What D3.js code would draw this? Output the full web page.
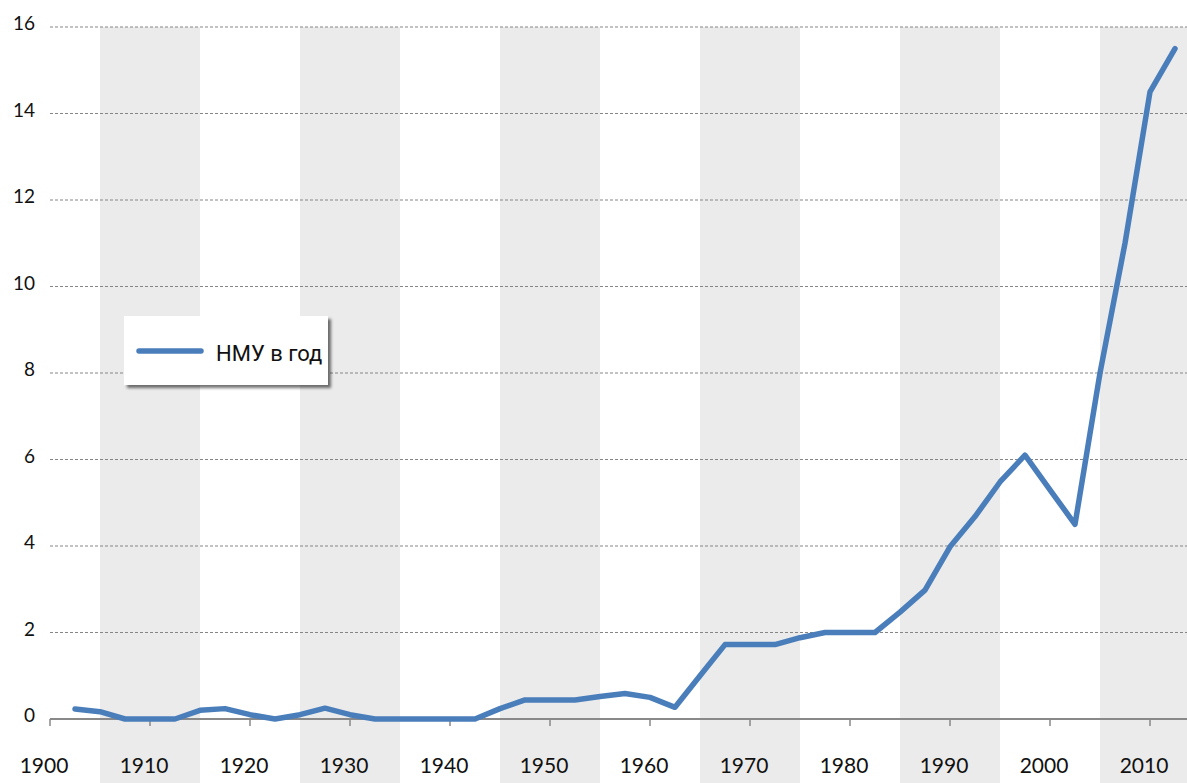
<!DOCTYPE html>
<html>
<head>
<meta charset="utf-8">
<script src="https://cdn.jsdelivr.net/npm/d3@7/dist/d3.min.js"></script>
<style>
  html, body { margin: 0; padding: 0; background: #fff; }
  svg { display: block; }
  .tick-label { font-family: Lato, "Open Sans", sans-serif; fill: #111; }
  .legend-text { font-family: "Liberation Sans Narrow", Roboto, sans-serif; fill: #111; }
</style>
</head>
<body>
<div id="chart"></div>
<script>
(function() {

// data: values per 2.5-year step
var years = [1902.5, 1905, 1907.5, 1910, 1912.5, 1915, 1917.5, 1920, 1922.5, 1925,
             1927.5, 1930, 1932.5, 1935, 1937.5, 1940, 1942.5, 1945, 1947.5, 1950,
             1952.5, 1955, 1957.5, 1960, 1962.5, 1965, 1967.5, 1970, 1972.5, 1975,
             1977.5, 1980, 1982.5, 1985, 1987.5, 1990, 1992.5, 1995, 1997.5, 2000,
             2002.5, 2005, 2007.5, 2010, 2012.5];
var values = [0.23, 0.17, 0, 0, 0, 0.2, 0.24, 0.1, 0, 0.1,
              0.25, 0.1, 0, 0, 0, 0, 0, 0.24, 0.44, 0.44,
              0.44, 0.52, 0.59, 0.5, 0.27, 1.0, 1.72, 1.72, 1.72, 1.88,
              2.0, 2.0, 2.0, 2.47, 2.98, 3.98, 4.68, 5.48, 6.1, 5.3,
              4.5, 8.0, 11.0, 14.5, 15.5];
var xTicks = [1900, 1910, 1920, 1930, 1940, 1950, 1960, 1970, 1980, 1990, 2000, 2010];
var yTicks = [0, 2, 4, 6, 8, 10, 12, 14, 16];
var bands = [[1905, 1915], [1925, 1935], [1945, 1955], [1965, 1975], [1985, 1995], [2005, 2015]];
var seriesName = 'НМУ в год';

var width = 1187, height = 783;

var x = d3.scaleLinear().domain([1900, 2013.7]).range([50, 1187]);
var y = d3.scaleLinear().domain([0, 16]).range([719, 27]);

var svg = d3.select('#chart').append('svg')
    .attr('width', width)
    .attr('height', height);

var defs = svg.append('defs');
var f = defs.append('filter').attr('id', 'shadow')
    .attr('x', '-10%').attr('y', '-20%').attr('width', '130%').attr('height', '150%');
f.append('feDropShadow').attr('dx', 3).attr('dy', 3).attr('stdDeviation', 1.5)
    .attr('flood-color', '#000').attr('flood-opacity', 0.55);

// alternating gray bands
svg.append('g').selectAll('rect')
    .data(bands)
    .enter().append('rect')
    .attr('x', function(d) { return x(d[0]); })
    .attr('width', function(d) { return Math.min(x(d[1]), width) - x(d[0]); })
    .attr('y', y(16))
    .attr('height', height - y(16))
    .attr('fill', '#ebebeb');

// dashed gridlines
svg.append('g').selectAll('line')
    .data(yTicks.filter(function(d) { return d > 0; }))
    .enter().append('line')
    .attr('x1', x(1900)).attr('x2', width)
    .attr('y1', function(d) { return y(d); })
    .attr('y2', function(d) { return y(d); })
    .attr('stroke', '#858585')
    .attr('stroke-width', 1.2)
    .attr('stroke-dasharray', '3,2');

// x axis line + ticks
svg.append('line')
    .attr('x1', x(1900)).attr('x2', width)
    .attr('y1', y(0)).attr('y2', y(0))
    .attr('stroke', '#898989').attr('stroke-width', 2);

svg.append('g').selectAll('line')
    .data(xTicks)
    .enter().append('line')
    .attr('x1', function(d) { return x(d); })
    .attr('x2', function(d) { return x(d); })
    .attr('y1', y(0)).attr('y2', y(0) + 7)
    .attr('stroke', '#898989').attr('stroke-width', 1.5);

svg.append('g').selectAll('text')
    .data(xTicks)
    .enter().append('text')
    .attr('class', 'tick-label')
    .attr('x', function(d) { return x(d) - 6; })
    .attr('y', 773)
    .attr('text-anchor', 'middle')
    .style('font-size', '21px')
    .text(function(d) { return d; });

svg.append('g').selectAll('text')
    .data(yTicks)
    .enter().append('text')
    .attr('class', 'tick-label')
    .attr('x', 35)
    .attr('y', function(d) { return y(d) + 3; })
    .attr('text-anchor', 'end')
    .style('font-size', '19px')
    .text(function(d) { return d; });

// series line
var line = d3.line()
    .x(function(d, i) { return x(years[i]); })
    .y(function(d) { return y(d); });

svg.append('path')
    .datum(values)
    .attr('d', line)
    .attr('fill', 'none')
    .attr('stroke', '#4a7ebb')
    .attr('stroke-width', 5.5)
    .attr('stroke-linejoin', 'round')
    .attr('stroke-linecap', 'round');

// legend
var lg = svg.append('g').attr('transform', 'translate(124,316)');
lg.append('rect')
    .attr('width', 204).attr('height', 69)
    .attr('fill', '#fff')
    .attr('filter', 'url(#shadow)');
lg.append('line')
    .attr('x1', 15).attr('x2', 77)
    .attr('y1', 35).attr('y2', 35)
    .attr('stroke', '#4a7ebb')
    .attr('stroke-width', 5.5)
    .attr('stroke-linecap', 'round');
lg.append('text')
    .attr('class', 'legend-text')
    .attr('x', 92).attr('y', 45)
    .style('font-size', '22px')
    .text(seriesName);

})();
</script>
</body>
</html>
